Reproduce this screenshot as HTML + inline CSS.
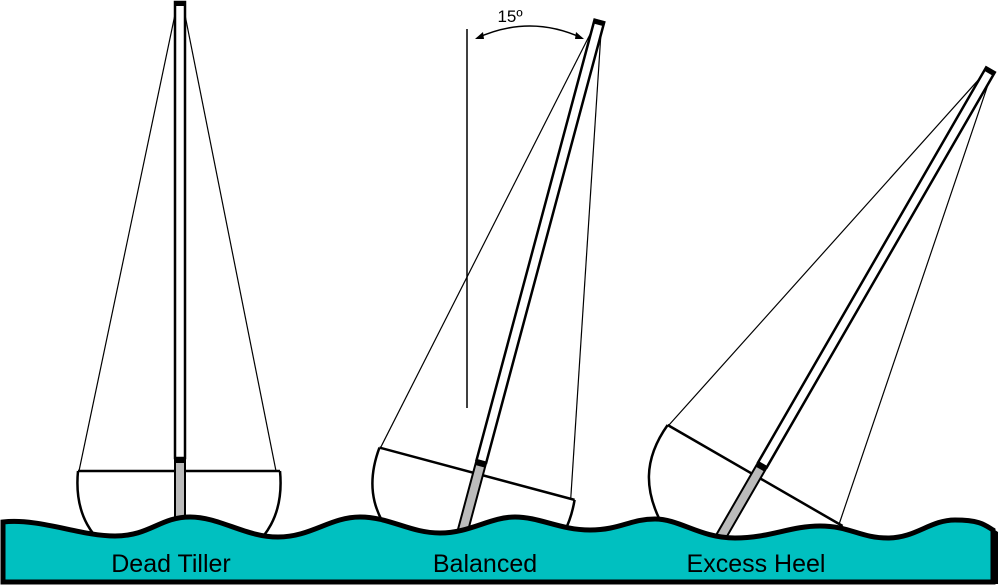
<!DOCTYPE html>
<html><head><meta charset="utf-8"><style>
html,body{margin:0;padding:0;background:#fff;width:1000px;height:585px;overflow:hidden;}
svg{display:block;overflow:hidden;}
text{font-family:"Liberation Sans",Arial,sans-serif;}
</style></head><body>
<svg width="1000" height="585" viewBox="0 0 1000 585" xmlns="http://www.w3.org/2000/svg">
<defs>
<g id="boat">
  <line x1="-3" y1="-466" x2="-101" y2="0" stroke="#000" stroke-width="1.2"/>
  <line x1="3" y1="-466" x2="96" y2="0" stroke="#000" stroke-width="1.2"/>
  <path d="M-102,0 C-106,42 -90,70 -52,92 L52,92 C88,70 104,42 100,0 Z" fill="#fff" stroke="none"/>
  <path d="M-102,0 C-106,42 -90,70 -52,92 M100,0 C104,42 88,70 52,92" fill="none" stroke="#000" stroke-width="2.5"/>
  <line x1="-102" y1="0" x2="100" y2="0" stroke="#000" stroke-width="2.5"/>
  <rect x="-5" y="-469" width="10" height="456" fill="#fff" stroke="#000" stroke-width="2.5"/>
  <rect x="-5" y="-470" width="10" height="5" fill="#000"/>
  <rect x="-5" y="-13" width="10" height="90" fill="#bbb" stroke="#000" stroke-width="2"/>
  <rect x="-5" y="-13" width="10" height="5" fill="#000"/>
</g>
</defs>
<use href="#boat" transform="translate(180,471)"/>
<use href="#boat" transform="translate(478,474) rotate(15)"/>
<use href="#boat" transform="translate(756,476) rotate(30)"/>
<line x1="467" y1="29" x2="467" y2="408" stroke="#000" stroke-width="1.5"/>
<path d="M477,38 Q530,14 582,38" fill="none" stroke="#000" stroke-width="1.5"/>
<path d="M475,39 L483,32 L484,39 Z" fill="#000"/>
<path d="M584,39 L576,32 L575,39 Z" fill="#000"/>
<text x="510" y="22" font-size="17" text-anchor="middle">15º</text>
<path d="M992,528 L998,532 L998,584 L992,584 Z" fill="#000"/>
<path d="M3,582 L3,522 C40,518 80,536 115,536 S160,517 190,517 S245,537 278,537 S330,517 360,517 S410,533 440,533 S490,517 515,517 S560,530 590,530 S630,519 655,519 S700,538 735,538 S790,526 820,526 S860,538 888,538 S930,520 955,520 S985,525 993,530 L993,582 Z" fill="#00c0c0" stroke="#000" stroke-width="5"/>
<text x="171" y="572" font-size="25" text-anchor="middle">Dead Tiller</text>
<text x="485" y="572" font-size="25" text-anchor="middle">Balanced</text>
<text x="756" y="572" font-size="25" text-anchor="middle">Excess Heel</text>
</svg>
</body></html>
